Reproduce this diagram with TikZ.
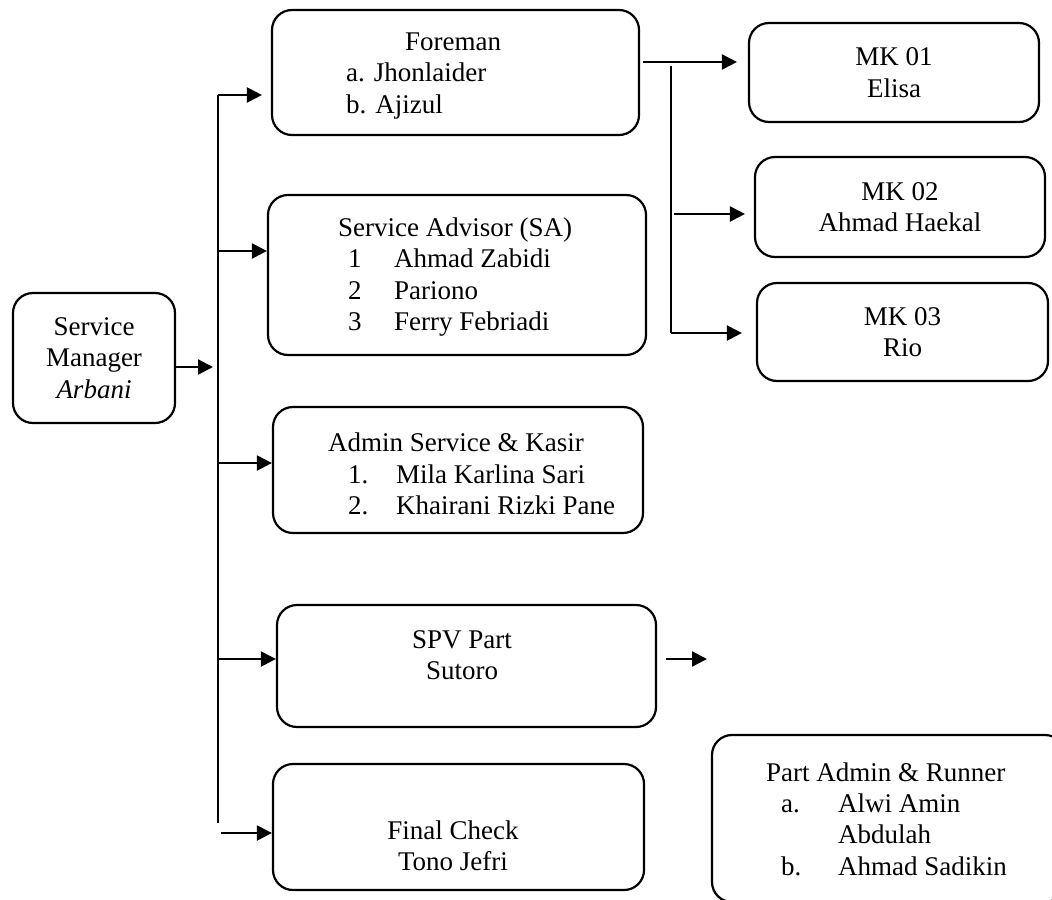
\documentclass[tikz,border=0pt]{standalone}
\usepackage{fontspec}
\setmainfont{Liberation Serif}
\usetikzlibrary{positioning,arrows.meta}

\begin{document}
\begin{tikzpicture}[x=0.5pt,y=-0.5pt,>={Triangle[length=7.5pt,width=7.5pt]},line width=1.1pt,
  every node/.style={font=\fontsize{13.5}{15.7}\selectfont},
  box/.style={draw,rounded corners=10pt,inner sep=0pt},
  txt/.style={inner sep=0pt,align=left}]
\clip (0,0) rectangle (1052,899);

% boxes
\node[box,minimum width=81pt,minimum height=65pt,align=center] (sm) at (94,358) {Service\\Manager\\\textit{Arbani}};
\node[box,minimum width=183.5pt,minimum height=62.5pt] (fore) at (455.5,72.5) {};
\node[box,minimum width=189pt,minimum height=80pt] (sa) at (457,275) {};
\node[box,minimum width=185pt,minimum height=63pt] (adm) at (458,470) {};
\node[box,minimum width=189.5pt,minimum height=61pt] (spv) at (466.5,666) {};
\node[box,minimum width=185.5pt,minimum height=63pt] (fin) at (458.5,827) {};
\node[box,minimum width=145pt,minimum height=49.5pt,align=center] (mk1) at (894,72.5) {MK 01\\Elisa};
\node[box,minimum width=145pt,minimum height=50pt,align=center] (mk2) at (900,207) {MK 02\\Ahmad Haekal};
\node[box,minimum width=145.5pt,minimum height=49pt,align=center] (mk3) at (902.5,332) {MK 03\\Rio};
\node[box,minimum width=176.5pt,minimum height=83.5pt] (part) at (888.5,818.5) {};

% texts
\node[txt,anchor=west] (fore-t) at (345,76) {\hspace*{29.5pt}Foreman\\a. Jhonlaider\\b. Ajizul};
\node[txt,anchor=west] (sa-t) at (337,277) {Service Advisor (SA)\\
  \hspace*{5pt}\makebox[23pt][l]{1}Ahmad Zabidi\\
  \hspace*{5pt}\makebox[23pt][l]{2}Pariono\\
  \hspace*{5pt}\makebox[23pt][l]{3}Ferry Febriadi};
\node[txt,anchor=west] (adm-t) at (327,474) {Admin Service \& Kasir\\
  \hspace*{10pt}\makebox[24pt][l]{1.}Mila Karlina Sari\\
  \hspace*{10pt}\makebox[24pt][l]{2.}Khairani Rizki Pane};
\node[txt,align=center] (spv-t) at (462,655) {SPV Part\\Sutoro};
\node[txt,align=center] (fin-t) at (453,846) {Final Check\\Tono Jefri};
\node[txt,anchor=west] (part-t) at (765,819) {Part Admin \& Runner\\
  \hspace*{7.5pt}\makebox[28.5pt][l]{a.}Alwi Amin\\
  \hspace*{36pt}Abdulah\\
  \hspace*{7.5pt}\makebox[28.5pt][l]{b.}Ahmad Sadikin};

% manager to trunk
\coordinate (j0) at (213,367);
\draw[->] (sm.east |- j0) -- (j0);
\coordinate (t1) at (218,95);
\coordinate (t2) at (218,823);
\draw (t1) -- (t2);
\draw[->,shorten >=4.5pt] (t1) -- (fore.west |- t1);
\foreach \n/\y in {sa/251,adm/463,spv/659}{
  \coordinate (b-\n) at (218,\y);
  \draw[->] (b-\n) -- (\n.west |- b-\n);
}
\coordinate (f0) at (221,833);
\draw[->] (f0) -- (fin.west |- f0);

% foreman to mekanik
\coordinate (fo) at (643,62);
\draw[->,shorten >=5.5pt] (fo) -- (mk1.west |- fo);
\coordinate (v1) at (671,66);
\coordinate (v2) at (671,333);
\draw (v1) -- (v2);
\coordinate (m2) at (674,214);
\draw[->,shorten >=4.5pt] (m2) -- (mk2.west |- m2);
\draw[->,shorten >=7pt] (v2) -- (mk3.west |- v2);

% spv part
\coordinate (sp) at (707,659);
\draw[->,shorten <=4.5pt] (spv.east |- sp) -- (sp);
\end{tikzpicture}
\end{document}
